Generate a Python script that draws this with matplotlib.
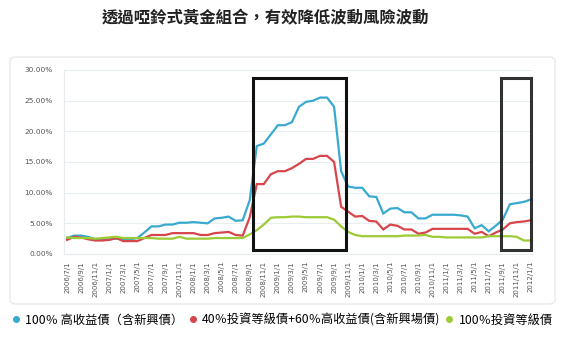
import matplotlib
matplotlib.use('Agg')
import matplotlib.pyplot as plt
from matplotlib.patches import Rectangle, FancyBboxPatch
from matplotlib.lines import Line2D
import pandas as pd

plt.rcParams['font.family'] = ['Noto Sans CJK TC', 'DejaVu Sans']

# 2006/7/1 ~ 2012/1/1, monthly
months = pd.date_range('2006-07-01', '2012-01-01', freq='MS')
tick_labels = [f"{d.year}/{d.month}/{d.day}" for d in months]

high_yield = [2.6, 3.0, 3.0, 2.8, 2.4, 2.4, 2.4, 2.5, 2.4, 2.4,
              2.6, 3.5, 4.5, 4.5, 4.8, 4.8, 5.1, 5.1, 5.2, 5.1,
              5.0, 5.8, 5.9, 6.1, 5.4, 5.5, 8.8, 17.6, 18.0, 19.5,
              21.0, 21.0, 21.5, 24.0, 24.8, 25.0, 25.5, 25.5, 24.0, 13.5,
              11.0, 10.8, 10.8, 9.4, 9.3, 6.6, 7.4, 7.5, 6.8, 6.8,
              5.8, 5.8, 6.4, 6.4, 6.4, 6.4, 6.3, 6.1, 4.2, 4.7,
              3.7, 4.6, 5.6, 8.1, 8.3, 8.5, 8.9]
mix_40_60 = [2.3, 2.8, 2.7, 2.4, 2.2, 2.2, 2.3, 2.6, 2.1, 2.1,
             2.1, 2.6, 3.1, 3.1, 3.1, 3.4, 3.4, 3.4, 3.4, 3.1,
             3.1, 3.4, 3.5, 3.6, 3.1, 3.0, 6.0, 11.4, 11.4, 13.0,
             13.5, 13.5, 14.0, 14.7, 15.5, 15.5, 16.0, 16.0, 15.0, 7.7,
             6.9, 6.1, 6.2, 5.4, 5.3, 4.0, 4.8, 4.6, 4.0, 4.0,
             3.3, 3.5, 4.1, 4.1, 4.1, 4.1, 4.1, 4.1, 3.3, 3.6,
             2.9, 3.5, 4.0, 5.0, 5.2, 5.3, 5.5]
inv_grade = [2.7, 2.6, 2.6, 2.6, 2.5, 2.6, 2.7, 2.8, 2.6, 2.6,
             2.6, 2.6, 2.6, 2.5, 2.5, 2.5, 2.8, 2.5, 2.5, 2.5,
             2.5, 2.6, 2.6, 2.6, 2.6, 2.6, 3.2, 3.9, 4.8, 5.9,
             6.0, 6.0, 6.1, 6.1, 6.0, 6.0, 6.0, 6.0, 5.6, 4.5,
             3.6, 3.1, 2.9, 2.9, 2.9, 2.9, 2.9, 2.9, 3.0, 3.0,
             3.0, 3.1, 2.8, 2.8, 2.7, 2.7, 2.7, 2.7, 2.7, 2.7,
             2.9, 2.9, 2.9, 2.9, 2.8, 2.2, 2.2]

names = ['100％ 高收益債（含新興債）',
         '40％投資等級債+60％高收益債(含新興場債)',
         '100％投資等級債']
colors = ['#3aa9cf', '#d6464b', '#9dcb35']

fig = plt.figure(figsize=(5.67, 3.37), dpi=100)

# card background
card = FancyBboxPatch((10 / 567, 1 - 304 / 337), 545 / 567, 247 / 337,
                      boxstyle='round,pad=0,rounding_size=0.012',
                      transform=fig.transFigure, facecolor='white',
                      edgecolor='#ececec', linewidth=1.2, zorder=-1)
fig.patches.append(card)

fig.text(265 / 567, 1 - 18 / 337, '透過啞鈴式黃金組合，有效降低波動風險波動',
         ha='center', va='center', fontsize=11.8, weight='bold', color='#222222')

ax = fig.add_axes([64 / 567, 1 - 254 / 337, 469 / 567, 184 / 337])
ax.set_facecolor('none')
x = range(len(months))
for ys, c in zip([high_yield, mix_40_60, inv_grade], colors):
    ax.plot(x, ys, color=c, linewidth=1.6, solid_joinstyle='miter')

ax.set_xlim(-0.43, 66.3)
ax.set_ylim(0, 30)
ax.set_yticks(range(0, 31, 5))
ax.set_yticklabels([f"{v:.2f}%" for v in range(0, 31, 5)], family='DejaVu Sans')
ax.set_xticks(list(x)[::2])
ax.set_xticklabels(tick_labels[::2], rotation=90, family='DejaVu Sans')
ax.tick_params(axis='y', length=0, labelsize=5.3, labelcolor='#555555', pad=8)
ax.tick_params(axis='x', length=0, labelsize=5.0, labelcolor='#555555', pad=5)
ax.grid(axis='y', color='#e9eef1', linewidth=0.8)
ax.set_axisbelow(True)
for s in ['top', 'right']:
    ax.spines[s].set_visible(False)
ax.spines['left'].set_color('#e6ecef')
ax.spines['bottom'].set_color('#e6ecef')

# highlight boxes
ax.add_patch(Rectangle((26.5, 0.6), 13.2, 28.1, fill=False, edgecolor='#111111',
                       linewidth=2.2, zorder=5, clip_on=False))
ax.add_patch(Rectangle((61.7, 0.6), 4.3, 28.1, fill=False, edgecolor='#1a1a1a',
                       linewidth=2.2, alpha=0.9, zorder=5, clip_on=False))

handles = [Line2D([], [], linestyle='none', marker='o', markersize=4,
                  markerfacecolor=c, markeredgecolor=c) for c in colors]
fig.legend(handles, names, loc='center', bbox_to_anchor=(283 / 567, 1 - 320 / 337),
           ncol=3, frameon=False, fontsize=8.8, handlelength=0.5,
           handletextpad=0.5, columnspacing=0.5, borderaxespad=0)

fig.savefig('out.png', dpi=100)
